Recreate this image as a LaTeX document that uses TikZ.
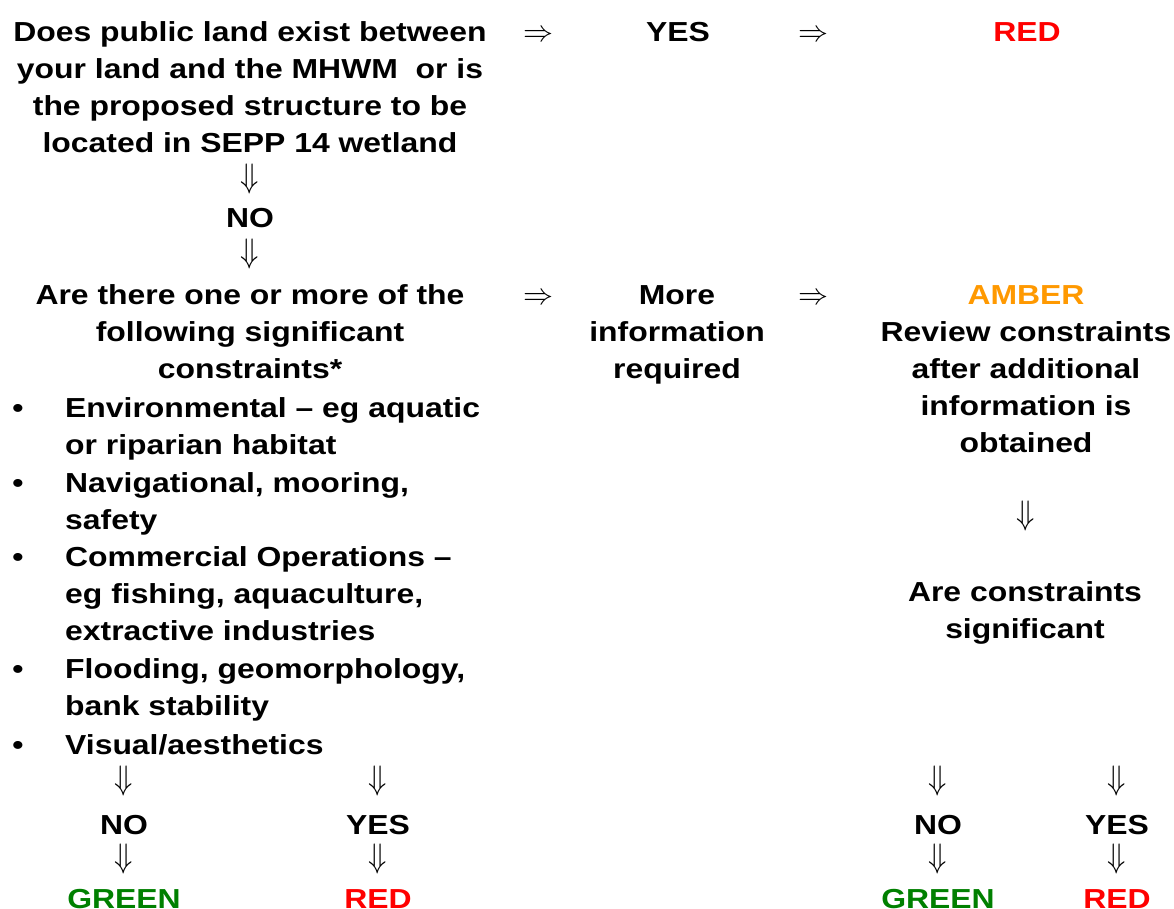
\documentclass[tikz,border=0pt]{standalone}
\usepackage{fontspec}
\setmainfont{Liberation Sans}[FakeStretch=1.16]
\usepackage{graphicx}
\definecolor{myred}{RGB}{255,0,0}
\definecolor{mygreen}{RGB}{0,128,0}
\definecolor{myamber}{RGB}{255,153,0}
\newcommand{\myRA}{\scalebox{3}{$\Rightarrow$}}
\newcommand{\myDA}{\scalebox{3}[3.4]{$\Downarrow$}}
\tikzset{
  txt/.style={inner sep=0pt, anchor=base, align=center, font=\fontsize{27.5}{37}\selectfont\bfseries},
  ltxt/.style={txt, anchor=base west, align=left},
  rarr/.style={inner sep=0pt, anchor=base, font=\normalsize},
  darr/.style={inner sep=0pt, anchor=center, font=\normalsize},
  bul/.style={inner sep=0pt, anchor=base, font=\fontsize{27.5}{37}\selectfont\bfseries},
}
\begin{document}
\begin{tikzpicture}[x=1pt,y=-1pt]
\path[use as bounding box, fill=white] (0,0) rectangle (1174,909);
% Row 1 (multi-line nodes are anchored at the baseline of their last line)
\node[txt] (q1) at (250,153) {Does public land exist between\\your land and the MHWM\ \ or is\\the proposed structure to be\\located in SEPP 14 wetland};
\node[rarr] (r1) at (538,42) {\myRA};
\node[txt] (yes1) at (678,42) {YES};
\node[rarr] (r2) at (813,42) {\myRA};
\node[txt, text=myred] (red1) at (1027,42) {RED};
% down to NO
\node[darr] (d1) at (250,179.5) {\myDA};
\node[txt] (no1) at (250,228) {NO};
\node[darr] (d2) at (250,254) {\myDA};
% Row 2
\node[txt] (q2) at (250,378) {Are there one or more of the\\following significant\\constraints*};
\node[rarr] (r3) at (538,304) {\myRA};
\node[txt] (more) at (677,378) {More\\information\\required};
\node[rarr] (r4) at (813,304) {\myRA};
\node[txt, text=myamber] (amber) at (1026,304) {AMBER};
\node[txt] (review) at (1026,452) {Review constraints\\after additional\\information is\\obtained};
% bullets
\node[bul] (b1) at (18,417) {\textbullet};
\node[ltxt] (c1) at (65,454) {Environmental -- eg aquatic\\or riparian habitat};
\node[bul] (b2) at (18,492) {\textbullet};
\node[ltxt] (c2) at (65,529) {Navigational, mooring,\\safety};
\node[bul] (b3) at (18,566) {\textbullet};
\node[ltxt] (c3) at (65,640) {Commercial Operations --\\eg fishing, aquaculture,\\extractive industries};
\node[bul] (b4) at (18,678) {\textbullet};
\node[ltxt] (c4) at (65,715) {Flooding, geomorphology,\\bank stability};
\node[bul] (b5) at (18,754) {\textbullet};
\node[ltxt] (c5) at (65,754) {Visual/aesthetics};
% right column
\node[darr] (d3) at (1026,516) {\myDA};
\node[txt] (sig) at (1025,638) {Are constraints\\significant};
% bottom left
\node[darr] (d4) at (124,781) {\myDA};
\node[txt] (no2) at (124,834) {NO};
\node[darr] (d5) at (124,859) {\myDA};
\node[txt, text=mygreen] (green1) at (124,908) {GREEN};
\node[darr] (d6) at (378,781) {\myDA};
\node[txt] (yes2) at (378,834) {YES};
\node[darr] (d7) at (378,859) {\myDA};
\node[txt, text=myred] (red2) at (378,908) {RED};
% bottom right
\node[darr] (d8) at (938,781) {\myDA};
\node[txt] (no3) at (938,834) {NO};
\node[darr] (d9) at (938,859) {\myDA};
\node[txt, text=mygreen] (green2) at (938,908) {GREEN};
\node[darr] (d10) at (1117,781) {\myDA};
\node[txt] (yes3) at (1117,834) {YES};
\node[darr] (d11) at (1117,859) {\myDA};
\node[txt, text=myred] (red3) at (1117,908) {RED};
\end{tikzpicture}
\end{document}
